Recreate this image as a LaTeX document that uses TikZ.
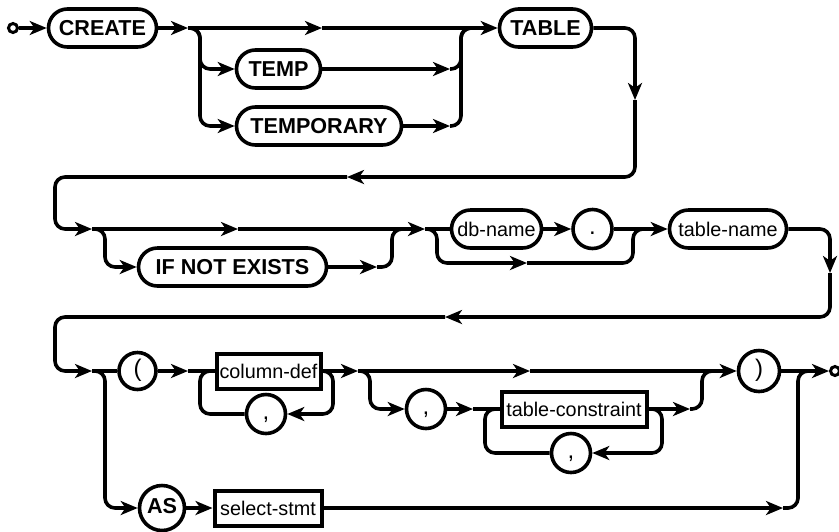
\documentclass[tikz,border=0pt]{standalone}
\usepackage{fontspec}
\setmainfont{Liberation Sans}
\usetikzlibrary{arrows.meta,calc,positioning}

\tikzset{
  kw/.style={draw, line width=1.8pt, rounded corners=9.5pt, minimum height=19pt, inner xsep=0pt, font=\fontsize{10.8}{12}\selectfont\bfseries},
  idt/.style={draw, line width=1.8pt, rounded corners=9.5pt, minimum height=19pt, inner xsep=0pt, font=\fontsize{9.9}{11}\selectfont},
  nt/.style={draw, line width=2pt, minimum height=17.5pt, inner xsep=0pt, font=\fontsize{9.9}{11}\selectfont},
  sym/.style={draw, circle, line width=1.8pt, minimum size=19.5pt, inner sep=0pt, text height=0.72em, text depth=0.2em, font=\fontsize{12}{13}\selectfont},
  ends/.style={draw, circle, line width=1.5pt, minimum size=4.5pt, inner sep=0pt},
  rr/.style={line width=1.8pt, rounded corners=5pt},
  ar/.style={rr, -{Stealth[length=8.5pt,width=7pt,inset=2.4pt]}},
}

\begin{document}
\begin{tikzpicture}[x=0.5pt,y=-0.5pt]
\useasboundingbox (0,0) rectangle (839,531);
% row 1
\node[ends] (start) at (13,28) {};
\node[kw, minimum width=54pt] (create) at (102.5,28) {CREATE};
\node[kw, minimum width=42pt] (temp) at (278.5,69) {TEMP};
\node[kw, minimum width=82.5pt] (tempry) at (319,126) {TEMPORARY};
\node[kw, minimum width=46pt] (table) at (545.5,28) {TABLE};
\coordinate (j1) at (188,28);
\coordinate (b1) at (200,28);
\coordinate (m1) at (322,28);
\coordinate (m2) at (450,69);
\coordinate (m3) at (450,126);
\coordinate (c2) at (461,28);
\coordinate (k2) at (475,28);
\coordinate (d1) at (635,100);
\coordinate (m4) at (347,177);
\draw[ar] (start) -- (create);
\draw[ar] (create) -- (j1);
\draw[ar] (j1) -- (m1);
\draw[ar] (m1) -- (table);
\draw[ar] (j1) -- (b1) |- (temp);
\draw[ar] (j1) -- (b1) |- (tempry);
\draw[ar] (temp) -- (m2);
\draw[ar] (tempry) -- (m3);
\draw[rr] (m2) -| (c2) -- (k2);
\draw[rr] (m3) -| (c2) -- (k2);
\draw[ar] (table) -| (d1);
\draw[ar] (d1) |- (m4);
% row 2
\node[kw, minimum width=94pt] (ifne) at (232.5,267) {IF NOT EXISTS};
\node[idt, minimum width=45pt] (dbname) at (496.5,229) {db-name};
\node[sym] (dot) at (592.5,229) {.};
\node[idt, minimum width=58.5pt] (tname) at (728,229) {table-name};
\coordinate (w2) at (55,229);
\coordinate (j5) at (92,229);
\coordinate (b5) at (105,229);
\coordinate (m5) at (238,229);
\coordinate (m6) at (377,267);
\coordinate (c6) at (392,229);
\coordinate (k6) at (405,229);
\coordinate (j6) at (425,229);
\coordinate (b6) at (437,229);
\coordinate (m7) at (527,263);
\coordinate (c7) at (633,229);
\coordinate (k7) at (645,229);
\coordinate (d2) at (830,273);
\coordinate (m8) at (445,317);
\draw[ar] (m4) -| (w2) -- (j5);
\draw[ar] (j5) -- (m5);
\draw[ar] (m5) -- (j6);
\draw[ar] (j5) -- (b5) |- (ifne);
\draw[ar] (ifne) -- (m6);
\draw[rr] (m6) -| (c6) -- (k6);
\draw[rr] (j6) -- (dbname);
\draw[ar] (dbname) -- (dot);
\draw[ar] (dot) -- (tname);
\draw[ar] (j6) -- (b6) |- (m7);
\draw[rr] (m7) -| (c7) -- (k7);
\draw[ar] (tname) -| (d2);
\draw[ar] (d2) |- (m8);
% row 3
\node[sym, minimum size=18.5pt] (lparen) at (137.5,371) {(};
\node[nt, minimum width=52pt] (coldef) at (268.5,371) {column-def};
\node[sym] (comma1) at (266,414) {,};
\node[sym] (comma2) at (426,409) {,};
\node[nt, minimum width=72.5pt] (tcons) at (574,409) {table-constraint};
\node[sym] (comma3) at (571,453) {,};
\node[sym, minimum size=20.5pt] (rparen) at (759,371) {)};
\node[ends] (finish) at (835,371) {};
\node[sym, minimum size=22.5pt, font=\fontsize{10.8}{12}\selectfont\bfseries] (as) at (162,508) {AS};
\node[nt, minimum width=53.5pt] (select) at (268,508) {select-stmt};
\coordinate (w3) at (55,371);
\coordinate (j8) at (92,371);
\coordinate (b8) at (105,371);
\coordinate (j9) at (188,371);
\coordinate (l1) at (333,371);
\coordinate (l2) at (200,371);
\coordinate (j10) at (358,371);
\coordinate (b10) at (370,371);
\coordinate (m10) at (530,371);
\coordinate (j11) at (473,409);
\coordinate (l3) at (662,409);
\coordinate (l4) at (485,409);
\coordinate (m11) at (690,409);
\coordinate (c11) at (702,371);
\coordinate (k11) at (715,371);
\coordinate (m12) at (783,508);
\coordinate (c12) at (798,371);
\coordinate (k12) at (810,371);
\draw[ar] (m8) -| (w3) -- (j8);
\draw[rr] (j8) -- (lparen);
\draw[ar] (j8) -- (b8) |- (as);
\draw[ar] (lparen) -- (j9);
\draw[rr] (j9) -- (coldef);
\draw[ar] (coldef.east) -- (l1) |- (comma1); %loop 1
\draw[rr] (comma1) -| (l2) -- (coldef);
\draw[ar] (coldef) -- (j10);
\draw[ar] (j10) -- (m10);
\draw[ar] (m10) -- (rparen);
\draw[ar] (j10) -- (b10) |- (comma2);
\draw[ar] (comma2) -- (j11);
\draw[rr] (j11) -- (tcons);
\draw[ar] (tcons.east) -- (l3) |- (comma3); %loop 2
\draw[rr] (comma3) -| (l4) -- (tcons);
\draw[ar] (tcons) -- (m11);
\draw[rr] (m11) -| (c11) -- (k11);
\draw[ar] (rparen) -- (finish);
\draw[ar] (as) -- (select);
\draw[ar] (select) -- (m12);
\draw[rr] (m12) -| (c12) -- (k12);
\end{tikzpicture}
\end{document}
